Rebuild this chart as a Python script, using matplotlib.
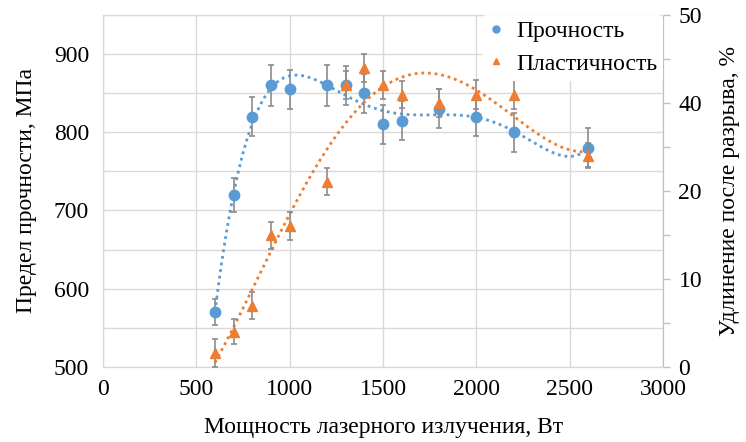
import numpy as np
import matplotlib
matplotlib.use('Agg')
import matplotlib.pyplot as plt
from matplotlib.ticker import FixedLocator, FixedFormatter, MultipleLocator

plt.rcParams['font.family'] = ['Liberation Serif', 'DejaVu Serif']

# data
power = [600, 700, 800, 900, 1000, 1200, 1300, 1400, 1500, 1600, 1800, 2000, 2200, 2600]
strength = [570, 720, 820, 860, 855, 860, 860, 850, 810, 815, 830, 820, 800, 780]
strength_err = [17, 22, 25, 26, 25, 26, 25, 25, 25, 25, 25, 25, 25, 25]
plasticity = [2, 5, 8.7, 18.7, 20, 26.3, 40, 42.5, 40, 38.7, 37.5, 38.7, 38.7, 30]
plasticity_err = [2, 1.8, 1.9, 1.9, 2, 1.9, 2, 2, 2, 1.9, 2, 2, 2, 1.8]

x_ticks = [0, 500, 1000, 1500, 2000, 2500, 3000]
left_ticks = [500, 600, 700, 800, 900]
right_tick_pos = [0, 12.5, 25, 37.5, 50]
right_tick_labels = ['0', '10', '20', '40', '50']

blue = '#5B9BD5'
orange = '#ED7D31'
grid_c = '#d9d9d9'
err_c = '#8c8c8c'

fig = plt.figure(figsize=(7.46, 4.42), dpi=100)
ax1 = fig.add_axes([0.138, 0.170, 0.751, 0.796])
ax2 = ax1.twinx()

# trend lines (polynomial fits like Excel)
xs = np.linspace(min(power), max(power), 300)
p1 = np.polyfit(np.array(power) / 1000, strength, 6)
p2 = np.polyfit(np.array(power) / 1000, plasticity, 4)
ax1.plot(xs, np.polyval(p1, xs / 1000), color=blue, lw=2, ls=(0, (1, 1.4)), zorder=2)
ax2.plot(xs, np.polyval(p2, xs / 1000), color=orange, lw=2, ls=(0, (1, 1.4)), zorder=2)

ax1.errorbar(power, strength, yerr=strength_err, fmt='o', color=blue, ms=7.5,
             ecolor=err_c, elinewidth=1.2, capsize=2.5, capthick=1.2, zorder=3)
ax2.errorbar(power, plasticity, yerr=plasticity_err, fmt='^', color=orange, ms=7.5,
             ecolor=err_c, elinewidth=1.2, capsize=2.5, capthick=1.2, zorder=3)

ax1.set_xlim(0, 3000)
ax1.set_ylim(500, 950)
ax2.set_ylim(0, 50)

ax1.set_xticks(x_ticks)
ax1.set_yticks(left_ticks)
ax1.yaxis.set_minor_locator(MultipleLocator(50))
ax1.grid(True, which='both', color=grid_c, lw=1)
ax1.set_axisbelow(True)
ax1.tick_params(axis='y', which='both', length=0, labelsize=17, pad=10)
ax1.tick_params(axis='x', which='both', length=0, labelsize=17, pad=9)

ax2.yaxis.set_major_locator(FixedLocator(right_tick_pos))
ax2.yaxis.set_major_formatter(FixedFormatter(right_tick_labels))
ax2.yaxis.set_minor_locator(FixedLocator([6.25, 18.75, 31.25, 43.75]))
ax2.tick_params(axis='y', which='both', length=5, color='#bfbfbf', width=1, labelsize=17, pad=6)
for lbl in ax2.get_yticklabels():
    lbl.set_verticalalignment('center_baseline')

for ax in (ax1, ax2):
    for s in ax.spines.values():
        s.set_color(grid_c)
ax2.spines['right'].set_color('#bfbfbf')

ax1.set_xlabel('Мощность лазерного излучения, Вт', fontsize=17, labelpad=12)
ax1.set_ylabel('Предел прочности, МПа', fontsize=17, labelpad=12)
ax2.set_ylabel('Удлинение после разрыва, %', fontsize=17, labelpad=12)

h1 = plt.Line2D([], [], marker='o', color=blue, ls='none', ms=5)
h2 = plt.Line2D([], [], marker='^', color=orange, ls='none', ms=5)
leg = ax2.legend([h1, h2], ['Прочность', 'Пластичность'], loc='upper right',
                 fontsize=17, frameon=True, framealpha=1, edgecolor='none',
                 borderaxespad=0, handletextpad=0.5, handlelength=0.7,
                 labelspacing=0.45, borderpad=0.25)

fig.savefig('out.png', dpi=100)
